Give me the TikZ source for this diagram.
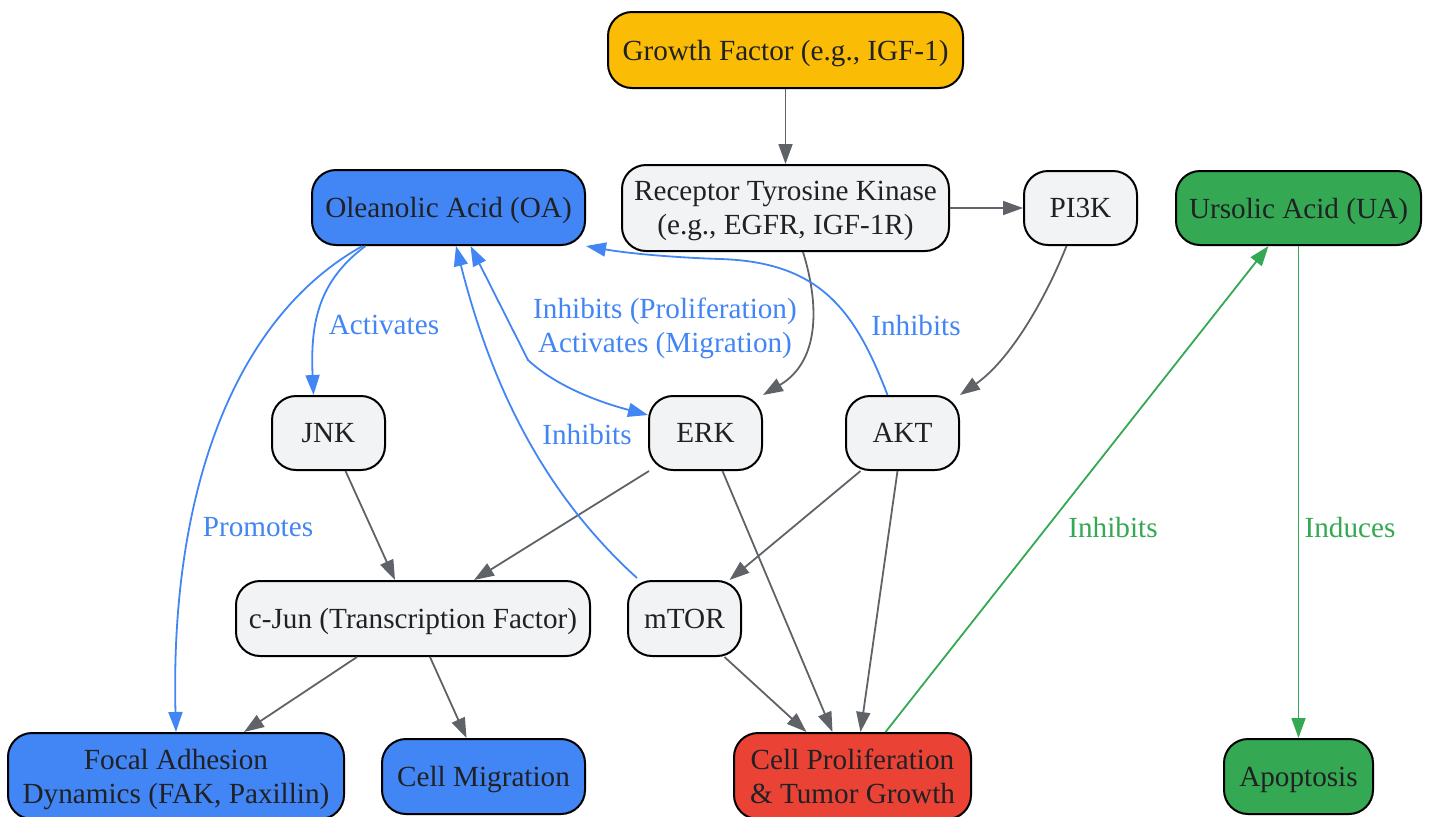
\documentclass[tikz,border=0pt]{standalone}
\usepackage{fontspec}
\setmainfont{Liberation Serif}
\usetikzlibrary{arrows.meta,calc}
\definecolor{gblue}{HTML}{4285F4}
\definecolor{ggreen}{HTML}{34A853}
\definecolor{gred}{HTML}{EA4335}
\definecolor{gyellow}{HTML}{FBBC05}
\definecolor{glight}{HTML}{F1F3F4}
\definecolor{gedge}{HTML}{5F6368}
\definecolor{gtext}{HTML}{202124}
\tikzset{
  tip/.tip={Triangle[length=10pt,width=7pt]},
  box/.style={draw=black, line width=1pt, rounded corners=12pt, inner sep=0pt,
    align=center, text=gtext, font=\fontsize{14.6}{17}\selectfont, text depth=0pt},
  lightbox/.style={box, fill=glight},
  edgegray/.style={draw=gedge, line width=0.9pt, -tip},
  edgeblue/.style={draw=gblue, line width=0.9pt, -tip},
  edgegreen/.style={draw=ggreen, line width=0.9pt, -tip},
  lbl/.style={font=\fontsize{14.6}{17}\selectfont, align=center, text depth=0pt},
}
\begin{document}
\begin{tikzpicture}[x=0.5pt,y=-0.5pt]
\useasboundingbox (0,0) rectangle (1431,816);
% nodes
\node[box, fill=gyellow, minimum width=177.5pt, minimum height=38pt] (gf) at (785.5,50) {Growth Factor (e.g., IGF-1)};
\node[lightbox, minimum width=163.5pt, minimum height=43pt] (rtk) at (785.5,208) {Receptor Tyrosine Kinase\\(e.g., EGFR, IGF-1R)};
\node[lightbox, minimum width=56.5pt, minimum height=37pt] (pi3k) at (1080.5,208) {PI3K};
\node[box, fill=ggreen, minimum width=122.5pt, minimum height=37pt] (ua) at (1298.5,208) {Ursolic Acid (UA)};
\node[box, fill=gblue, minimum width=136.5pt, minimum height=37.5pt] (oa) at (448.5,207.5) {Oleanolic Acid (OA)};
\node[lightbox, minimum width=56.5pt, minimum height=37pt] (jnk) at (328.5,433) {JNK};
\node[lightbox, minimum width=56.5pt, minimum height=37pt] (erk) at (705.5,433) {ERK};
\node[lightbox, minimum width=56.5pt, minimum height=37pt] (akt) at (902.5,433) {AKT};
\node[lightbox, minimum width=177pt, minimum height=37.5pt] (cjun) at (413,618.5) {c-Jun (Transcription Factor)};
\node[lightbox, minimum width=56.5pt, minimum height=37.5pt] (mtor) at (684.5,618.5) {mTOR};
\node[box, fill=gblue, minimum width=168pt, minimum height=43pt] (fa) at (176,776) {Focal Adhesion\\Dynamics (FAK, Paxillin)};
\node[box, fill=gblue, minimum width=101.5pt, minimum height=37.5pt] (cm) at (483.5,776.5) {Cell Migration};
\node[box, fill=gred, minimum width=118.5pt, minimum height=43pt] (cp) at (852.5,776) {Cell Proliferation\\\& Tumor Growth};
\node[box, fill=ggreen, minimum width=74.5pt, minimum height=37.5pt] (apo) at (1298.5,776.5) {Apoptosis};
% gray edges
\draw[edgegray] (gf) -- (rtk);
\draw[edgegray] (rtk) -- (pi3k);
\draw[edgegray] ($(rtk.south)+(17.5,0)$) .. controls (818,300) and (822,360) .. (erk.north east);
\draw[edgegray] ($(pi3k.south)+(-14,0)$) .. controls (1045,300) and (1010,360) .. (akt.north east);
\draw[edgegray] ($(jnk.south)+(17,0)$) -- ($(cjun.north)+(-18,0)$);
\draw[edgegray] ($(erk.south west)+(1,0)$) -- ($(cjun.north)+(61,0)$);
\draw[edgegray] ($(cjun.south)+(-56,0)$) -- ($(fa.north)+(68,0)$);
\draw[edgegray] ($(cjun.south)+(17,0)$) -- ($(cm.north)+(-17,0)$);
\draw[edgegray] ($(erk.south)+(17,0)$) -- ($(cp.north)+(-20,0)$);
\draw[edgegray] ($(akt.south)+(-42,0)$) -- ($(mtor.north)+(45,0)$);
\draw[edgegray] ($(akt.south)+(-5,0)$) -- ($(cp.north)+(8,0)$);
\draw[edgegray] ($(mtor.south)+(40,0)$) -- ($(cp.north)+(-46,0)$);
% blue edges
\draw[edgeblue] ($(akt.north)+(-15,0)$) .. controls (855,310) and (820,262) .. (720,259)
  .. controls (660,257) and (620,252) .. (oa.south east);
\node[lbl, text=gblue] (l1) at (916,325) {Inhibits};
\draw[edgeblue] ($(oa.south)+(-83,0)$) .. controls (320,280) and (310,320) .. ($(jnk.north)+(-15,0)$);
\node[lbl, text=gblue] (l2) at (384,325) {Activates};
\draw[edgeblue] ($(oa.south)+(-86,0)$) .. controls (230,320) and (170,500) .. (fa.north);
\node[lbl, text=gblue] (l3) at (258,527) {Promotes};
\coordinate (bend) at (528,360);
\draw[edgeblue, tip-tip] ($(oa.south)+(22,0)$) -- (bend) .. controls (560,390) and (610,405) .. ($(erk.west)+(0,-18)$);
\node[lbl, text=gblue] (l4) at (665,325) {Inhibits (Proliferation)\\Activates (Migration)};
\draw[edgeblue] ($(mtor.north west)+(10,-2)$) .. controls (540,490) and (490,380) .. ($(oa.south)+(7.5,0)$);
\node[lbl, text=gblue] (l5) at (587,434) {Inhibits};
% green edges
\draw[edgegreen] ($(cp.north)+(33,0)$) -- ($(ua.south)+(-30,0)$);
\node[lbl, text=ggreen] (l6) at (1113,527) {Inhibits};
\draw[edgegreen] (ua) -- (apo);
\node[lbl, text=ggreen] (l7) at (1350,527) {Induces};
\end{tikzpicture}
\end{document}
